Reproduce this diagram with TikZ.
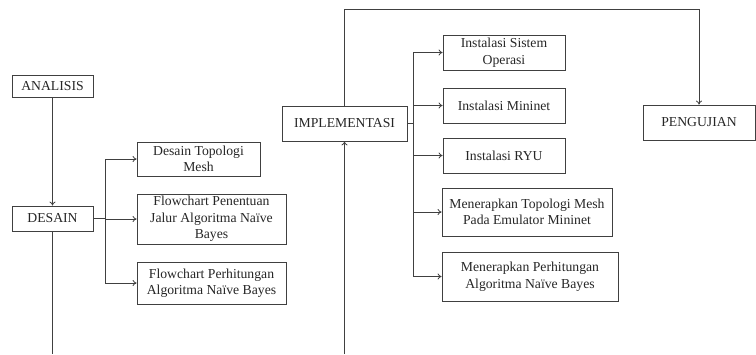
\documentclass[tikz,border=0pt]{standalone}
\usepackage{fontspec}
\setmainfont{Liberation Serif}
\usetikzlibrary{positioning,arrows.meta}

\begin{document}
\begin{tikzpicture}
[x=1pt,y=-1pt,
box/.style={draw=black!75,line width=0.8pt,inner sep=1pt,align=center,
  font=\fontsize{13.7}{16.5}\selectfont,text=black!85},
link/.style={draw=black!75,line width=0.8pt},
arr/.style={link,-{To[length=4pt,width=6pt]}}]
\useasboundingbox (0,0) rectangle (756,354);
\node[box,minimum width=81pt,minimum height=22pt](anal) at (52.5,86){ANALISIS};
\node[box,minimum width=81pt,minimum height=25pt](des) at (52.5,218.5){DESAIN};
\node[box,minimum width=123pt,minimum height=34pt](des1) at (198.5,159){Desain Topologi\\Mesh};
\node[box,minimum width=149pt,minimum height=50pt](des2) at (211.5,219){Flowchart Penentuan\\Jalur Algoritma Naïve\\Bayes};
\node[box,minimum width=149pt,minimum height=42pt](des3) at (211.5,283){Flowchart Perhitungan\\Algoritma Naïve Bayes};
\node[box,minimum width=125pt,minimum height=35pt](impl) at (344.5,123.5){IMPLEMENTASI};
\node[box,minimum width=122pt,minimum height=35pt](impl1) at (504,52.5){Instalasi Sistem\\Operasi};
\node[box,minimum width=122pt,minimum height=35pt](impl2) at (504,105.5){Instalasi Mininet};
\node[box,minimum width=122pt,minimum height=35pt](impl3) at (504,155.5){Instalasi RYU};
\node[box,minimum width=170pt,minimum height=48pt](impl4) at (527,212){Menerapkan Topologi Mesh\\Pada Emulator Mininet};
\node[box,minimum width=176pt,minimum height=49pt](impl5) at (530,276.5){Menerapkan Perhitungan\\Algoritma Naïve Bayes};
\node[box,minimum width=112pt,minimum height=35pt](uji) at (699,122.5){PENGUJIAN};
% free ends and junctions
\coordinate (desend) at (52.5,354);
\coordinate (implstart) at (344.5,354);
\coordinate (top) at (699,9);
\coordinate (dj) at (105,218.5);
\coordinate (ij) at (413,123.5);
% main flow
\draw[arr] (anal) -- (des);
\draw[link] (des) -- (desend);
\draw[arr] (implstart) -- (impl);
\draw[arr] (impl.north) |- (top) -- (uji.north);
% branches
\draw[link] (des) -- (dj);
\foreach \n in {des1,des2,des3} \draw[arr] (dj) |- (\n.west);
\draw[link] (impl) -- (ij);
\foreach \n in {impl1,impl2,impl3,impl4,impl5} \draw[arr] (ij) |- (\n.west);
\end{tikzpicture}
\end{document}
